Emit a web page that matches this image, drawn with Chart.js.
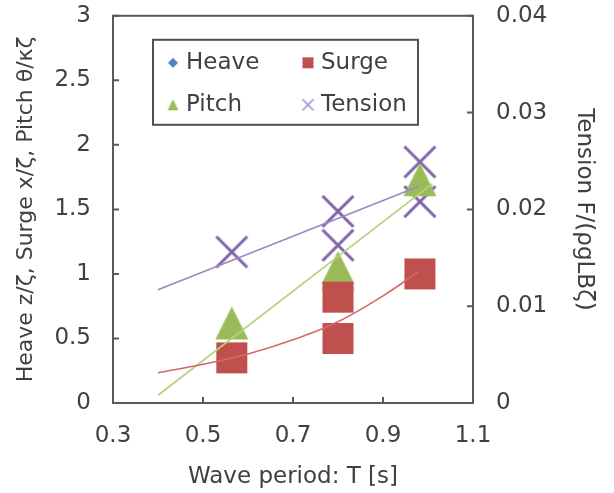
<!DOCTYPE html>
<html>
<head>
<meta charset="utf-8">
<script src="https://cdn.jsdelivr.net/npm/chart.js@4/dist/chart.umd.min.js"></script>
<style>
  html, body { margin: 0; padding: 0; background: #fff; }
  #wrap { width: 614px; height: 493px; position: relative; overflow: hidden; }
  /* the tick padding of the vertical axes pushes the plot down; lift the canvas to compensate */
  #inner { position: absolute; left: 0; top: -21px; width: 614px; height: 514px; }
</style>
</head>
<body>
<div id="wrap"><div id="inner"><canvas id="chart"></canvas></div></div>
<script>
// measured series (wave period T [s] vs response)
var heaveT = [];
var heaveAmp = [];
var surgeT = [0.564, 0.80, 0.80, 0.982];
var surgeAmp = [0.35, 0.82, 0.50, 1.00];
var pitchT = [0.564, 0.80, 0.80, 0.982];
var pitchAmp = [0.62, 1.05, 1.00, 1.73];
var tensionT = [0.564, 0.80, 0.80, 0.982, 0.982];
var tensionF = [0.0156, 0.0198, 0.0163, 0.0249, 0.0208];

// trend lines
var surgeFitT = [0.40, 0.50, 0.60, 0.70, 0.80, 0.90, 0.98];
var surgeFit = [0.235, 0.30, 0.38, 0.49, 0.63, 0.83, 1.02];
var pitchFitT = [0.40, 1.01];
var pitchFit = [0.06, 1.70];
var tensionFitT = [0.40, 0.98];
var tensionFit = [0.0117, 0.0224];

// axis ticks
var xTicks = [0.3, 0.5, 0.7, 0.9, 1.1];
var yTicks = [0, 0.5, 1, 1.5, 2, 2.5, 3];
var y2Ticks = [0, 0.01, 0.02, 0.03, 0.04];

var legendNames = ['Heave', 'Surge', 'Pitch', 'Tension'];

(function () {
    'use strict';

    var FONT = 'DejaVu Sans';
    var TEXT = '#404040';
    var AXIS = '#5a5a5a';
    var BLUE = '#4F81BD', RED = '#C0504D', GREEN = '#9BBB59', PURPLE = '#7F62A8';

    function pts(xs, ys) {
        return xs.map(function (x, i) { return { x: x, y: ys[i] }; });
    }

    function fixTicks(values) {
        return function (scale) {
            scale.ticks = values.map(function (v) { return { value: v }; });
        };
    }

    function plain(value) {
        return String(value);
    }

    ////////////////////////////////////////////
    // marker images (drawn centred by Chart.js)

    function marker(kind, size, color) {
        var c = document.createElement('canvas');
        c.width = size + 4;
        c.height = size + 4;
        var g = c.getContext('2d');
        var m = 2, s = size;
        g.fillStyle = color;
        g.strokeStyle = color;
        if (kind === 'square') {
            g.fillRect(m, m, s, s);
        } else if (kind === 'triangle') {
            g.beginPath();
            g.moveTo(m + s / 2, m);
            g.lineTo(m + s, m + s);
            g.lineTo(m, m + s);
            g.closePath();
            g.fill();
        } else if (kind === 'diamond') {
            g.beginPath();
            g.moveTo(m + s / 2, m);
            g.lineTo(m + s, m + s / 2);
            g.lineTo(m + s / 2, m + s);
            g.lineTo(m, m + s / 2);
            g.closePath();
            g.fill();
        } else if (kind === 'cross') {
            g.lineWidth = s > 15 ? 3 : 1.6;
            g.beginPath();
            g.moveTo(m, m);
            g.lineTo(m + s, m + s);
            g.moveTo(m + s, m);
            g.lineTo(m, m + s);
            g.stroke();
        }
        return c;
    }

    var bigSquare = marker('square', 31, RED);
    var bigTriangle = marker('triangle', 33, GREEN);
    var bigCross = marker('cross', 31, PURPLE);
    var bigDiamond = marker('diamond', 10, BLUE);

    var legendMarks = [
        marker('diamond', 10, BLUE),
        marker('square', 11, RED),
        marker('triangle', 11, GREEN),
        marker('cross', 11, '#9E8CC8')
    ];

    ////////////////////////////////////////////
    // frame with inward ticks and a boxed two-column legend

    var framePlugin = {
        id: 'frame',
        beforeDatasetsDraw: function (chart) {
            var ctx = chart.ctx, a = chart.chartArea;
            var sx = chart.scales.x, sy = chart.scales.y, sy2 = chart.scales.y2;
            ctx.save();
            ctx.strokeStyle = AXIS;
            ctx.lineWidth = 2;
            ctx.strokeRect(a.left, a.top, a.right - a.left, a.bottom - a.top);
            ctx.beginPath();
            xTicks.forEach(function (v) {
                var px = sx.getPixelForValue(v);
                ctx.moveTo(px, a.bottom);
                ctx.lineTo(px, a.bottom - 6);
            });
            yTicks.forEach(function (v) {
                var py = sy.getPixelForValue(v);
                ctx.moveTo(a.left, py);
                ctx.lineTo(a.left + 6, py);
            });
            y2Ticks.forEach(function (v) {
                var py = sy2.getPixelForValue(v);
                ctx.moveTo(a.right, py);
                ctx.lineTo(a.right - 6, py);
            });
            ctx.stroke();
            ctx.restore();
        },
        afterDraw: function (chart) {
            var ctx = chart.ctx, a = chart.chartArea;
            var bx = a.left + 40, by = a.top + 24, bw = 265, bh = 85;
            ctx.save();
            ctx.fillStyle = '#fff';
            ctx.fillRect(bx, by, bw, bh);
            ctx.strokeStyle = '#505050';
            ctx.lineWidth = 2;
            ctx.strokeRect(bx, by, bw, bh);
            ctx.font = '23px "' + FONT + '"';
            ctx.fillStyle = TEXT;
            ctx.textBaseline = 'middle';
            legendNames.forEach(function (name, i) {
                var col = i % 2, row = Math.floor(i / 2);
                var mx = bx + (col ? 155 : 20);
                var my = by + (row ? 65 : 23);
                var img = legendMarks[i];
                ctx.drawImage(img, mx - img.width / 2, my - img.height / 2);
                ctx.fillText(name, mx + 13, my);
            });
            ctx.restore();
        }
    };

    ////////////////////////////////////////////

    var tickFont = { family: FONT, size: 23 };

    var config = {
        type: 'scatter',
        data: {
            datasets: [
                { label: 'surge trend', data: pts(surgeFitT, surgeFit), showLine: true, tension: 0.4,
                  borderColor: '#D46A67', borderWidth: 1.6, pointRadius: 0, yAxisID: 'y' },
                { label: 'pitch trend', data: pts(pitchFitT, pitchFit), showLine: true,
                  borderColor: '#B4D27C', borderWidth: 1.6, pointRadius: 0, yAxisID: 'y' },
                { label: 'tension trend', data: pts(tensionFitT, tensionFit), showLine: true,
                  borderColor: '#9C86C6', borderWidth: 1.6, pointRadius: 0, yAxisID: 'y2' },
                { label: 'Heave', data: pts(heaveT, heaveAmp), pointStyle: bigDiamond, yAxisID: 'y' },
                { label: 'Surge', data: pts(surgeT, surgeAmp), pointStyle: bigSquare, yAxisID: 'y' },
                { label: 'Pitch', data: pts(pitchT, pitchAmp), pointStyle: bigTriangle, yAxisID: 'y' },
                { label: 'Tension', data: pts(tensionT, tensionF), pointStyle: bigCross, yAxisID: 'y2' }
            ]
        },
        options: {
            responsive: true,
            maintainAspectRatio: false,
            animation: false,
            layout: { padding: 0 },
            plugins: { legend: { display: false }, tooltip: { enabled: false } },
            scales: {
                x: {
                    type: 'linear', min: 0.3, max: 1.1,
                    afterBuildTicks: fixTicks(xTicks),
                    afterFit: function (s) { s.height = 90; },
                    grid: { display: false, drawTicks: false },
                    border: { display: false },
                    ticks: { font: tickFont, color: TEXT, padding: 19, maxRotation: 0, callback: plain },
                    title: { display: true, text: 'Wave period: T [s]', font: tickFont, color: TEXT, padding: 2 }
                },
                y: {
                    position: 'left', min: 0, max: 3,
                    afterBuildTicks: fixTicks(yTicks),
                    afterFit: function (s) { s.width = 113; },
                    grid: { display: false, drawTicks: false },
                    border: { display: false },
                    ticks: { font: tickFont, color: TEXT, padding: 22, callback: plain },
                    title: { display: true, text: 'Heave z/\u03b6, Surge x/\u03b6, Pitch \u03b8/\u03ba\u03b6',
                             font: { family: FONT, size: 22 }, color: TEXT, padding: 13 }
                },
                y2: {
                    position: 'right', min: 0, max: 0.04,
                    afterBuildTicks: fixTicks(y2Ticks),
                    afterFit: function (s) { s.width = 141; },
                    grid: { display: false, drawTicks: false },
                    border: { display: false },
                    ticks: { font: tickFont, color: TEXT, padding: 23, callback: plain },
                    title: { display: true, text: 'Tension F/(\u03c1gLB\u03b6)', font: tickFont, color: TEXT, padding: 16 }
                }
            }
        },
        plugins: [framePlugin]
    };

    new Chart(document.getElementById('chart'), config);
})();
</script>
</body>
</html>
